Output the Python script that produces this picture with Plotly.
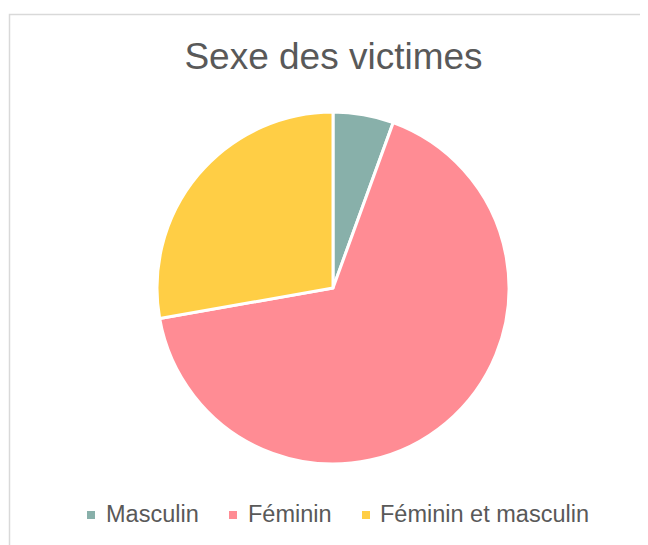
import plotly.graph_objects as go

labels = ["Masculin", "Féminin", "Féminin et masculin"]
values = [2, 24, 10]
colors = ["#88B0AA", "#FF8C94", "#FFCE45"]

W, H = 648, 545
OFF = 8  # page body margin offset


def px(x):
    return (x - OFF) / W


def py(y):
    return 1 - (y - OFF) / H


cx, cy, r = 333, 288, 176

fig = go.Figure(go.Pie(
    labels=labels, values=values, sort=False, direction="clockwise", rotation=0,
    marker=dict(colors=colors, line=dict(color="white", width=3)),
    textinfo="none", hoverinfo="label+value+percent", showlegend=False,
    domain=dict(x=[px(cx - r), px(cx + r)], y=[py(cy + r), py(cy - r)]),
))

# custom legend positions (screen px)
legend_sq_x = [87, 229, 362]
legend_tx_x = [104, 246, 378]
legend_y = 515

shapes = [dict(type="rect", xref="paper", yref="paper", x0=px(9.5), y0=-0.05, x1=1.05, y1=py(14.5),
               line=dict(color="#D9D9D9", width=1.5), fillcolor="rgba(0,0,0,0)", layer="below")]
annotations = []
for lab, col, sx, tx in zip(labels, colors, legend_sq_x, legend_tx_x):
    shapes.append(dict(type="rect", xref="paper", yref="paper", x0=px(sx), x1=px(sx + 8),
                       y0=py(legend_y + 4), y1=py(legend_y - 4), line=dict(width=0), fillcolor=col))
    annotations.append(dict(text=lab, xref="paper", yref="paper", x=px(tx), y=py(legend_y - 1),
                            xanchor="left", yanchor="middle", showarrow=False,
                            font=dict(size=23.5, color="#595959")))

fig.update_layout(
    width=W, height=H, margin=dict(l=0, r=0, t=0, b=0),
    paper_bgcolor="white", showlegend=False,
    font=dict(family="Liberation Sans, Arial, sans-serif", color="#595959"),
    title=dict(text="Sexe des victimes", x=px(333.5), xanchor="center", y=py(56), yanchor="middle",
               font=dict(size=37, color="#595959")),
    shapes=shapes, annotations=annotations,
)

fig.write_html("out.html")
